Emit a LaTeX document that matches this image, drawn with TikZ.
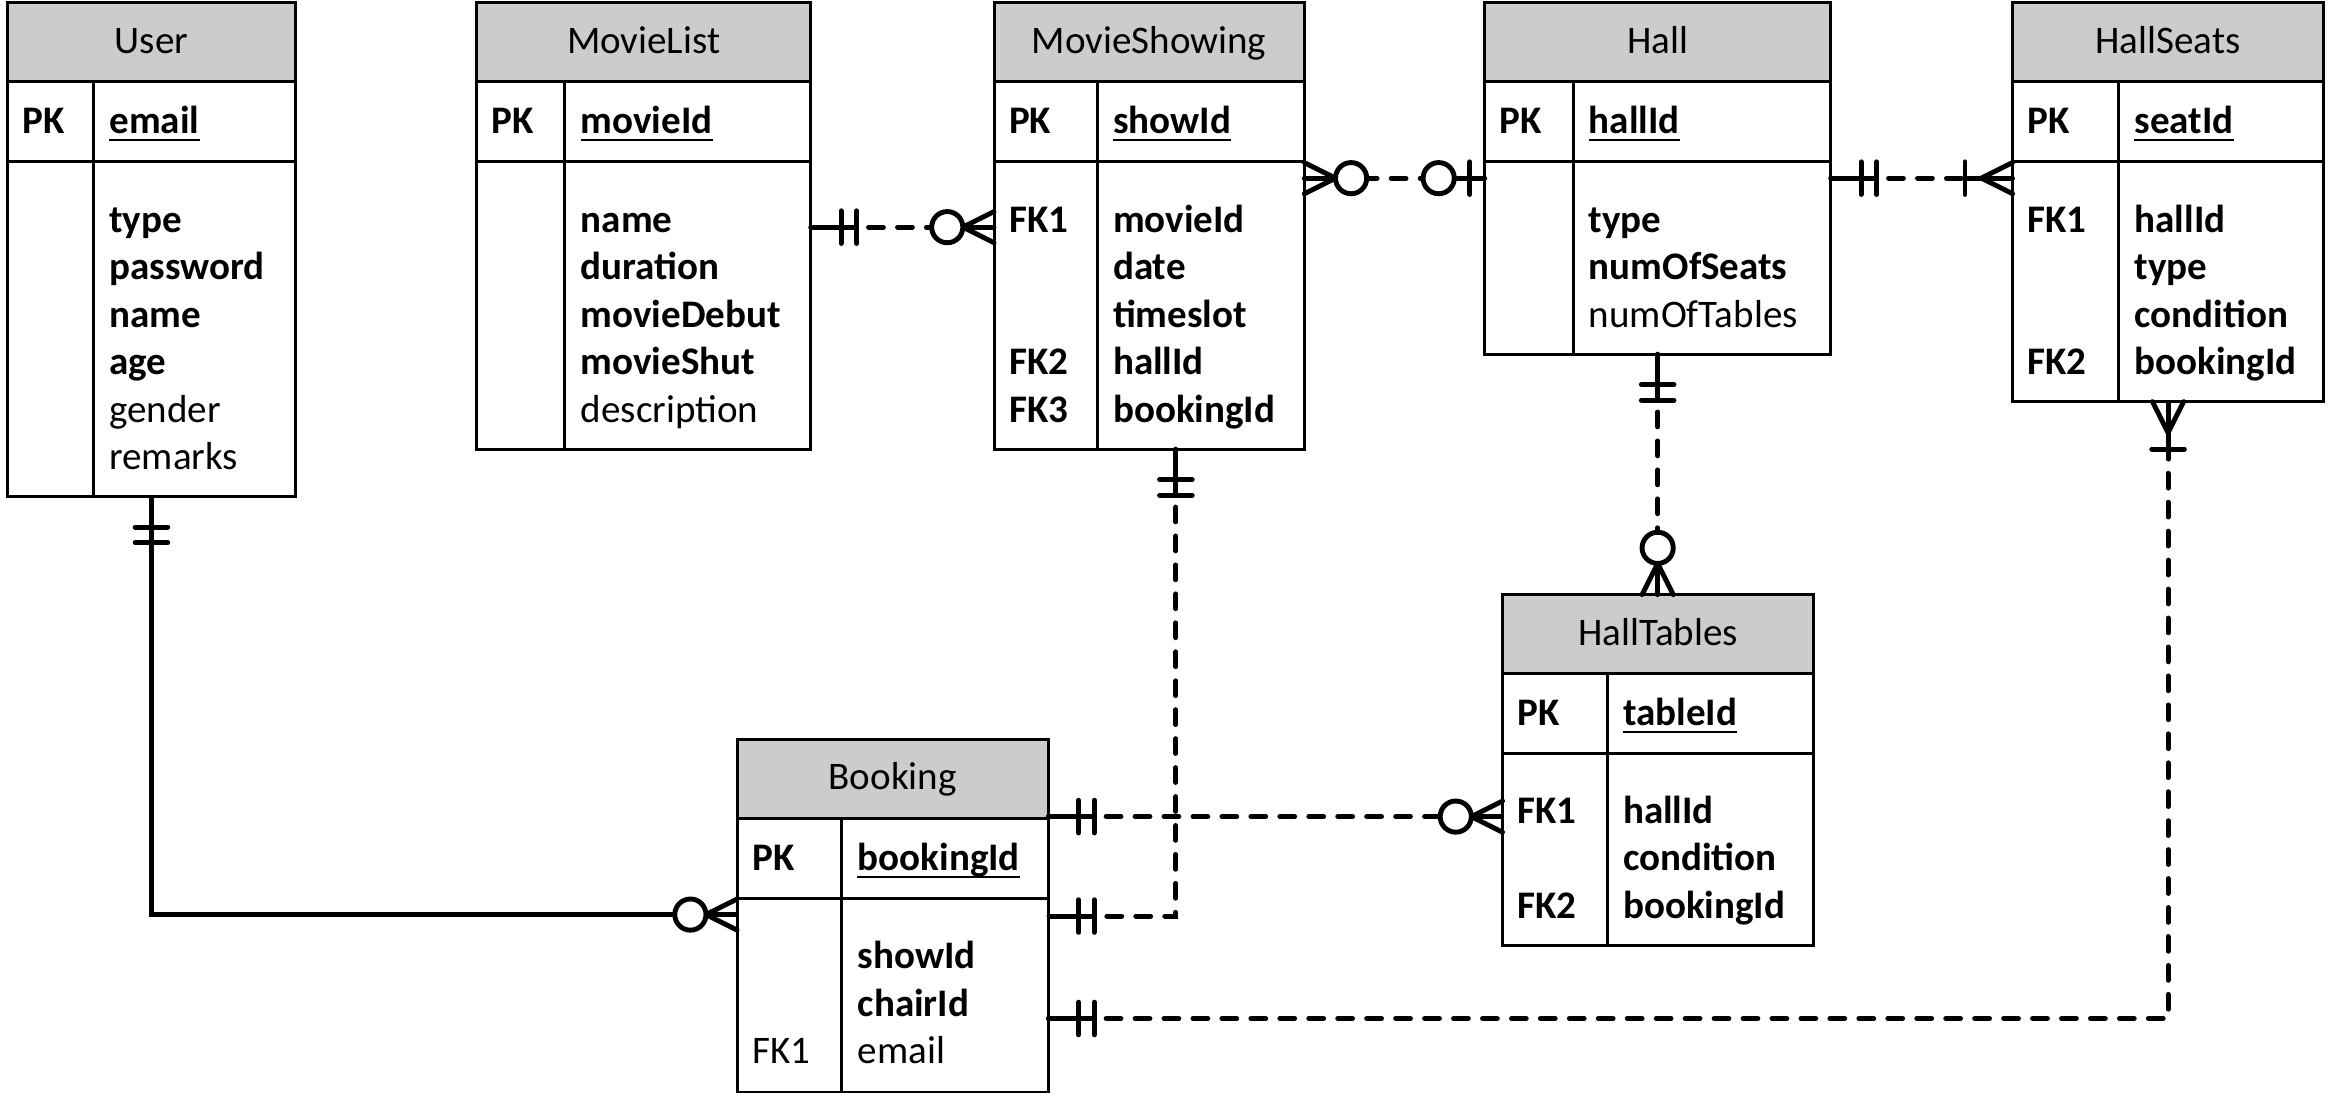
\documentclass[tikz,border=0pt]{standalone}
\usepackage{fontspec}
\setmainfont{Carlito}
\usetikzlibrary{calc}
\definecolor{hdrgray}{RGB}{204,204,204}
\newcommand\fs{\fontsize{26.3}{32}\selectfont}
\newcommand\ertable[7]{% name, L, T, R, D, B, title
  \node[tblshape, minimum width={#4pt-#2pt}, minimum height={#6pt-#3pt}] (#1) at ({(#2+#4)/2},{(#3+#6)/2}) {};
  \fill[hdrgray] (#1.north west) rectangle ($(#1.north east)+(0,53)$);
  \draw[boxline] ($(#1.north west)+(0,53)$) -- ($(#1.north east)+(0,53)$);
  \draw[boxline] ($(#1.north west)+(0,107)$) -- ($(#1.north east)+(0,107)$);
  \draw[boxline] (#5,#3+53) -- (#5,#6);
  \draw[boxline] (#1.north west) rectangle (#1.south east);
  \node[ttl] (#1-title) at ({(#2+#4)/2},#3+34) {#7};
}
\newcommand\pkrow[5]{% table, keyx, fieldx, y, name
  \node[fldb] (#1-pk) at (#2,#4) {PK};
  \node[fldb] (#1-pkf) at (#3,#4) {#5};
  \draw[uline] ([yshift=-4.5pt]#1-pkf.base west) -- ([yshift=-4.5pt]#1-pkf.base east);
}
\newcommand\attb[4]{\node[fldb] (#1) at (#2,#3) {#4};}
\newcommand\attn[4]{\node[fldn] (#1) at (#2,#3) {#4};}
\tikzset{
  tblshape/.style={rectangle, inner sep=0pt, outer sep=0pt},
  boxline/.style={line width=2pt, line cap=rect},
  uline/.style={line width=1.5pt},
  fldb/.style={anchor=base west, inner sep=0pt, font=\fs\bfseries},
  fldn/.style={anchor=base west, inner sep=0pt, font=\fs},
  ttl/.style={anchor=base, inner sep=0pt, font=\fs},
  conn/.style={line width=3.3pt, dash pattern=on 10pt off 9.5pt, line cap=round},
  connsolid/.style={line width=3.3pt},
  mk/.style={line width=3.3pt, solid, line cap=round},
  pics/one/.style={code={
    \draw[mk, line cap=butt] (0,0) -- (31,0);
    \draw[mk] (20.5,-11) -- (20.5,11);
    \draw[mk] (31,-11) -- (31,11);}},
  pics/zeromany/.style={code={
    \draw[mk, line cap=butt] (0,0) -- (21,0);
    \draw[mk] (0,-10.5) -- (21,0) -- (0,10.5);
    \draw[mk, fill=white] (31.5,0) circle[radius=10.5pt];}},
  pics/zeroone/.style={code={
    \draw[mk, line cap=butt] (0,0) -- (21,0);
    \draw[mk] (10,-11) -- (10,11);
    \draw[mk, fill=white] (31,0) circle[radius=10.5pt];}},
  pics/onemany/.style={code={
    \draw[mk, line cap=butt] (0,0) -- (32,0);
    \draw[mk] (0,-10.5) -- (21,0) -- (0,10.5);
    \draw[mk] (32,-11) -- (32,11);}},
}
\begin{document}
\begin{tikzpicture}[x=1pt,y=-1pt]
\useasboundingbox (0,0) rectangle (1568,738);
% ---------- User
\ertable{user}{5}{2}{199}{63}{334.5}{User}
\pkrow{user}{15}{73.5}{90}{email}
\attb{user-a1}{73.5}{156.5}{type}
\attb{user-a2}{73.5}{188.5}{password}
\attb{user-a3}{73.5}{220.5}{name}
\attb{user-a4}{73.5}{252.5}{age}
\attn{user-a5}{73.5}{284.5}{gender}
\attn{user-a6}{73.5}{316.5}{remarks}
% ---------- MovieList
\ertable{ml}{321}{2}{546}{380.5}{302.5}{MovieList}
\pkrow{ml}{331}{391}{90}{movieId}
\attb{ml-a1}{391}{156.5}{name}
\attb{ml-a2}{391}{188.5}{duration}
\attb{ml-a3}{391}{220.5}{movieDebut}
\attb{ml-a4}{391}{252.5}{movieShut}
\attn{ml-a5}{391}{284.5}{description}
% ---------- MovieShowing
\ertable{ms}{669.5}{2}{878.5}{739}{302.5}{MovieShowing}
\pkrow{ms}{679.5}{749.5}{90}{showId}
\attb{ms-k1}{679.5}{156.5}{FK1}
\attb{ms-a1}{749.5}{156.5}{movieId}
\attb{ms-a2}{749.5}{188.5}{date}
\attb{ms-a3}{749.5}{220.5}{timeslot}
\attb{ms-k2}{679.5}{252.5}{FK2}
\attb{ms-a4}{749.5}{252.5}{hallId}
\attb{ms-k3}{679.5}{284.5}{FK3}
\attb{ms-a5}{749.5}{284.5}{bookingId}
% ---------- Hall
\ertable{hall}{1000}{2}{1233}{1059.5}{238.5}{Hall}
\pkrow{hall}{1010}{1070}{90}{hallId}
\attb{hall-a1}{1070}{156.5}{type}
\attb{hall-a2}{1070}{188.5}{numOfSeats}
\attn{hall-a3}{1070}{220.5}{numOfTables}
% ---------- HallSeats
\ertable{hs}{1355.5}{2}{1565}{1427}{270.5}{HallSeats}
\pkrow{hs}{1365.5}{1437.5}{90}{seatId}
\attb{hs-k1}{1365.5}{156.5}{FK1}
\attb{hs-a1}{1437.5}{156.5}{hallId}
\attb{hs-a2}{1437.5}{188.5}{type}
\attb{hs-a3}{1437.5}{220.5}{condition}
\attb{hs-k2}{1365.5}{252.5}{FK2}
\attb{hs-a4}{1437.5}{252.5}{bookingId}
% ---------- HallTables
\ertable{ht}{1012}{400.5}{1221.5}{1082.5}{636.5}{HallTables}
\pkrow{ht}{1022}{1093}{488.5}{tableId}
\attb{ht-k1}{1022}{554.5}{FK1}
\attb{ht-a1}{1093}{554.5}{hallId}
\attb{ht-a2}{1093}{586.5}{condition}
\attb{ht-k2}{1022}{618.5}{FK2}
\attb{ht-a3}{1093}{618.5}{bookingId}
% ---------- Booking
\ertable{bk}{496.5}{498}{706}{567}{735.5}{Booking}
\pkrow{bk}{506.5}{577.5}{586}{bookingId}
\attb{bk-a1}{577.5}{652.5}{showId}
\attb{bk-a2}{577.5}{684.5}{chairId}
\attn{bk-k1}{506.5}{716.5}{FK1}
\attn{bk-a3}{577.5}{716.5}{email}
% ---------- connector anchor points
\coordinate (mlMS) at ([yshift=-151pt]ml.north east);
\coordinate (msH) at ([yshift=-118pt]ms.north east);
\coordinate (hHS) at ([yshift=-118pt]hall.north east);
\coordinate (msB) at ([xshift=18pt]ms.south);
\coordinate (bkMS) at ([yshift=-119pt]bk.north east);
\coordinate (bkHT) at ([yshift=-52pt]bk.north east);
\coordinate (bkHS) at ([yshift=-188pt]bk.north east);
\coordinate (bkU) at ([yshift=-118pt]bk.north west);
% ---------- connectors
\draw[conn] (mlMS) -- (mlMS -| ms.west);
\draw[conn] (msH) -- (msH -| hall.west);
\draw[conn] (hHS) -- (hHS -| hs.west);
\draw[conn] (hall.south) -- (hall.south |- ht.north);
\draw[conn] (msB) |- (bkMS);
\draw[conn] (bkHT) -- (bkHT -| ht.west);
\draw[conn] (bkHS) -| (hs.south);
\draw[connsolid] (user.south) |- (bkU);
% ---------- end marks
\pic[rotate=0] at (mlMS) {one};
\pic[rotate=180] at (mlMS -| ms.west) {zeromany};
\pic[rotate=0] at (msH) {zeromany};
\pic[rotate=180] at (msH -| hall.west) {zeroone};
\pic[rotate=0] at (hHS) {one};
\pic[rotate=180] at (hHS -| hs.west) {onemany};
\pic[rotate=-90] at (hall.south) {one};
\pic[rotate=90] at (hall.south |- ht.north) {zeromany};
\pic[rotate=-90] at (msB) {one};
\pic[rotate=0] at (bkMS) {one};
\pic[rotate=0] at (bkHT) {one};
\pic[rotate=180] at (bkHT -| ht.west) {zeromany};
\pic[rotate=0] at (bkHS) {one};
\pic[rotate=-90] at (hs.south) {onemany};
\pic[rotate=-90] at (user.south) {one};
\pic[rotate=180] at (bkU) {zeromany};
\end{tikzpicture}
\end{document}
